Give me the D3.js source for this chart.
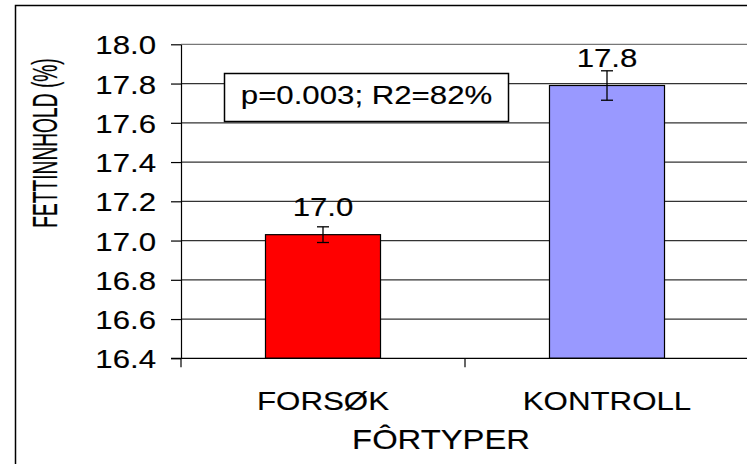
<!DOCTYPE html>
<html lang="no">
<head>
<meta charset="UTF-8">
<title>Fettinnhold</title>
<script src="https://cdn.jsdelivr.net/npm/d3@7"></script>
<style>
  body { margin: 0; background: #fff; }
  text { font-family: "Liberation Sans", Arial, Helvetica, sans-serif; fill: #000; stroke: #000; stroke-width: 0.15px; }
</style>
</head>
<body>
<script>
// data
var categories = ["FORSØK", "KONTROLL"];
var values = [17.03, 17.79];
var errors = [0.04, 0.075];
var valueLabels = ["17.0", "17.8"];
var barColors = ["#ff0000", "#9999ff"];
var yTicks = [16.4, 16.6, 16.8, 17.0, 17.2, 17.4, 17.6, 17.8, 18.0];
var statText = "p=0.003; R2=82%";
var xTitle = "FÔRTYPER";
var yTitle = "FETTINNHOLD (%)";

var width = 747, height = 464;
var plotLeft = 181, plotRight = 749, plotTop = 44.3, plotBottom = 358.3;
var stretch = 1.2;   // the picture is a bit wider than the font

var svg = d3.select("body").append("svg")
    .attr("width", width)
    .attr("height", height);

// outer frame (cut off at right and bottom)
svg.append("rect")
    .attr("x", 15.5).attr("y", 5.5)
    .attr("width", 760).attr("height", 480)
    .attr("fill", "#fff")
    .attr("stroke", "#000")
    .attr("stroke-width", 1.5);

var y = d3.scaleLinear().domain([16.4, 18.0]).range([plotBottom, plotTop]);
var x = d3.scaleBand().domain(categories).range([plotLeft, plotRight]).padding(0);
// bars take about 40% of each category slot
var xBar = d3.scaleBand().domain(categories).range([plotLeft, plotRight])
    .paddingInner(0.595).paddingOuter(0.2975);

// grid
svg.append("g")
    .selectAll("line")
    .data(yTicks.slice(1))
    .enter().append("line")
    .attr("x1", plotLeft).attr("x2", plotRight)
    .attr("y1", function(d) { return y(d); })
    .attr("y2", function(d) { return y(d); })
    .attr("stroke", function(d) { return d === 18.0 ? "#777" : "#333"; })
    .attr("stroke-width", 1.2);

// y axis
var yAxis = svg.append("g")
    .attr("transform", "translate(" + plotLeft + ",0)")
    .call(d3.axisLeft(y).tickValues(yTicks).tickSize(10).tickSizeOuter(0)
        .tickFormat(d3.format(".1f")));
yAxis.attr("font-family", null).attr("font-size", null);
yAxis.select(".domain").attr("stroke", "#000").attr("stroke-width", 1.2);
yAxis.selectAll(".tick line").attr("stroke", "#000").attr("stroke-width", 1.2);
yAxis.selectAll(".tick text")
    .attr("x", 0).attr("dy", null)
    .attr("font-size", 26)
    .attr("fill", "#000")
    .attr("transform", "translate(-25,9.5) scale(" + stretch + ",1)");

// bars
var bars = svg.append("g");
bars.selectAll("rect")
    .data(categories)
    .enter().append("rect")
    .attr("x", function(d) { return xBar(d); })
    .attr("width", xBar.bandwidth())
    .attr("y", function(d, i) { return y(values[i]); })
    .attr("height", function(d, i) { return y(16.4) - y(values[i]); })
    .attr("fill", function(d, i) { return barColors[i]; })
    .attr("stroke", "#000")
    .attr("stroke-width", 1.2);

// x axis line and category ticks
svg.append("line")
    .attr("x1", plotLeft - 10).attr("x2", plotRight)
    .attr("y1", plotBottom).attr("y2", plotBottom)
    .attr("stroke", "#000").attr("stroke-width", 1.2);
var bounds = categories.map(function(c) { return x(c); }).concat([x.range()[1]]);
svg.append("g").selectAll("line")
    .data(bounds)
    .enter().append("line")
    .attr("x1", function(d) { return d; }).attr("x2", function(d) { return d; })
    .attr("y1", plotBottom).attr("y2", plotBottom + 9)
    .attr("stroke", "#000").attr("stroke-width", 1.2);

// error bars
var err = svg.append("g").attr("stroke", "#000").attr("stroke-width", 1.3);
categories.forEach(function(c, i) {
    var cx = xBar(c) + xBar.bandwidth() / 2;
    var y1 = y(values[i] + errors[i]), y2 = y(values[i] - errors[i]);
    err.append("line").attr("x1", cx).attr("x2", cx).attr("y1", y1).attr("y2", y2);
    err.append("line").attr("x1", cx - 6).attr("x2", cx + 6).attr("y1", y1).attr("y2", y1);
    err.append("line").attr("x1", cx - 6).attr("x2", cx + 6).attr("y1", y2).attr("y2", y2);
});

function label(g, txt, tx, ty, size, sx) {
    return g.append("text")
        .attr("transform", "translate(" + tx + "," + ty + ") scale(" + sx + ",1)")
        .attr("text-anchor", "middle")
        .attr("font-size", size)
        .text(txt);
}

// value labels
categories.forEach(function(c, i) {
    var cx = xBar(c) + xBar.bandwidth() / 2;
    label(svg, valueLabels[i], cx, y(values[i]) - 18.5, 26, stretch);
});

// category labels
categories.forEach(function(c) {
    label(svg, c, x(c) + x.bandwidth() / 2, 409.5, 26.5, 1.18);
});

// stats box
svg.append("rect")
    .attr("x", 224.5).attr("y", 73.5)
    .attr("width", 284).attr("height", 48)
    .attr("fill", "#fff")
    .attr("stroke", "#000").attr("stroke-width", 1.5);
label(svg, statText, 366.5, 103.5, 26, stretch);

// axis titles
label(svg, xTitle, 441, 449, 28, 1.17);
svg.append("text")
    .attr("transform", "translate(57,143) rotate(-90) scale(0.8,1.45)")
    .attr("text-anchor", "middle")
    .attr("font-size", 24)
    .text(yTitle);
</script>
</body>
</html>
